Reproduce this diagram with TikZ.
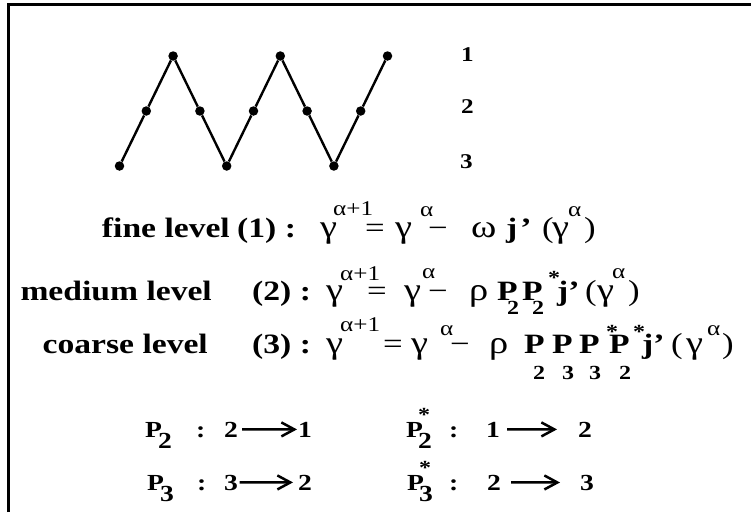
\documentclass[tikz,border=0pt]{standalone}
\usepackage{fontspec}
\setmainfont{Liberation Serif}[FakeStretch=1.2]
\usetikzlibrary{arrows.meta}

\begin{document}
\begin{tikzpicture}[x=1pt, y=1pt, >={Straight Barb[length=13pt,width=14pt]},
  dot/.style={circle, fill, inner sep=0pt, minimum size=9.5pt},
  pc/.style={inner sep=0pt, anchor=base west},
  tag/.style={pc, font=\bfseries\fontsize{21}{24}\selectfont},
  lvl/.style={pc, anchor=base east, font=\bfseries\fontsize{28}{32}\selectfont},
  bb/.style={pc, font=\bfseries\fontsize{28}{32}\selectfont},
  rr/.style={pc, font=\fontsize{29}{32}\selectfont},
  grk/.style={pc, font=\fontsize{32}{34}\selectfont},
  sup/.style={pc, font=\fontsize{21}{23}\selectfont},
  bsub/.style={pc, font=\bfseries\fontsize{20}{22}\selectfont},
  rowb/.style={pc, font=\bfseries\fontsize{23}{26}\selectfont},
  arr/.style={->, line width=2.5pt}]

  \useasboundingbox (0,0) rectangle (751,-512);

  % Cadre
  \draw[line width=3pt] (8.5,-512) -- (8.5,-4.5) -- (751,-4.5);

  % Zigzag des niveaux
  \foreach \lv [count=\i from 0] in {3,2,1,2,3,2,1,2,3,2,1}
    \node[dot] (d\i) at ({119.5+26.8*\i}, {-1-55*\lv}) {};
  \draw[line width=2.4pt] (d0) -- (d1) -- (d2) -- (d3) -- (d4) -- (d5)
    -- (d6) -- (d7) -- (d8) -- (d9) -- (d10);

  % Numeros des niveaux
  \node[tag] (tg1) at (461,-61) {1};
  \node[tag] (tg2) at (461,-113) {2};
  \node[tag] (tg3) at (460,-168) {3};

  % Niveau fin
  \node[lvl] (lvA) at (230,-237) {fine level};
  \node[bb] (nA) at (237,-237) {(1) :};
  \node[grk] (gA1) at (320,-237) {γ};
  \node[sup] (eA1) at (333,-215) {α+1};
  \node[rr] (qA) at (365,-237) {=};
  \node[grk] (gA2) at (395,-237) {γ};
  \node[sup] (eA2) at (420,-216) {α};
  \node[rr] (mA) at (428,-237) {−};
  \node[grk] (wA) at (471,-237) {ω};
  \node[bb] (jA) at (506,-237) {j\kern3pt’};
  \node[rr] (oA) at (542,-237) {(};
  \node[grk] (gA3) at (552,-237) {γ};
  \node[sup] (eA3) at (568,-216) {α};
  \node[rr] (pA) at (584,-237) {)};

  % Niveau moyen
  \node[lvl] (lvB) at (212,-300) {medium level};
  \node[bb] (nB) at (252,-300) {(2) :};
  \node[grk] (gB1) at (326,-300) {γ};
  \node[sup] (eB1) at (340,-280) {α+1};
  \node[rr] (qB) at (367,-300) {=};
  \node[grk] (gB2) at (404,-300) {γ};
  \node[sup] (eB2) at (422,-278) {α};
  \node[rr] (mB) at (428,-300) {−};
  \node[grk] (rB) at (469,-300) {ρ};
  \node[bb] (PB1) at (497,-300) {P};
  \node[bsub] (sB1) at (507,-314) {2};
  \node[bb] (PB2) at (522,-300) {P};
  \node[bsub] (sB2) at (532,-314) {2};
  \node[bsub] (aB2) at (548,-284) {*};
  \node[bb] (jB) at (557,-300) {j’};
  \node[rr] (oB) at (585,-300) {(};
  \node[grk] (gB3) at (597,-300) {γ};
  \node[sup] (eB3) at (612,-278) {α};
  \node[rr] (pB) at (628,-300) {)};

  % Niveau grossier
  \node[lvl] (lvC) at (208,-353) {coarse level};
  \node[bb] (nC) at (252,-353) {(3) :};
  \node[grk] (gC1) at (326,-353) {γ};
  \node[sup] (eC1) at (340,-331) {α+1};
  \node[rr] (qC) at (383,-353) {=};
  \node[grk] (gC2) at (411,-353) {γ};
  \node[sup] (eC2) at (440,-335) {α};
  \node[rr] (mC) at (450,-353) {−};
  \node[grk] (rC) at (489,-353) {ρ};
  \node[bb] (PC1) at (524,-353) {P};
  \node[bsub] (sC1) at (533,-379) {2};
  \node[bb] (PC2) at (552,-353) {P};
  \node[bsub] (sC2) at (562,-379) {3};
  \node[bb] (PC3) at (579,-353) {P};
  \node[bsub] (sC3) at (589,-379) {3};
  \node[bsub] (aC3) at (606,-338) {*};
  \node[bb] (PC4) at (609,-353) {P};
  \node[bsub] (sC4) at (619,-379) {2};
  \node[bsub] (aC4) at (633,-338) {*};
  \node[bb] (jC) at (642,-353) {j’};
  \node[rr] (oC) at (671,-353) {(};
  \node[grk] (gC3) at (686,-353) {γ};
  \node[sup] (eC3) at (707,-335) {α};
  \node[rr] (pC) at (722,-353) {)};

  % Prolongements P_2, P_2^*
  \node[rowb] (PD1) at (145,-437) {P};
  \node[rowb] (sD1) at (158,-448) {2};
  \node[rowb] (cD1) at (196,-437) {:};
  \node[rowb] (fD1) at (224,-437) {2};
  \node[rowb] (tD1) at (298,-437) {1};
  \node[rowb] (PD2) at (406,-437) {P};
  \node[bsub] (aD2) at (418,-421) {*};
  \node[rowb] (sD2) at (418,-448) {2};
  \node[rowb] (cD2) at (449,-437) {:};
  \node[rowb] (fD2) at (486,-437) {1};
  \node[rowb] (tD2) at (578,-437) {2};
  \draw[arr, shorten <=4pt, shorten >=1pt] (fD1) -- (tD1);
  \draw[arr, shorten <=7pt, shorten >=21pt] (fD2) -- (tD2);

  % Prolongements P_3, P_3^*
  \node[rowb] (PE1) at (147,-490) {P};
  \node[rowb] (sE1) at (160,-501) {3};
  \node[rowb] (cE1) at (197,-490) {:};
  \node[rowb] (fE1) at (224,-490) {3};
  \node[rowb] (tE1) at (298,-490) {2};
  \node[rowb] (PE2) at (407,-490) {P};
  \node[bsub] (aE2) at (419,-474) {*};
  \node[rowb] (sE2) at (419,-501) {3};
  \node[rowb] (cE2) at (449,-490) {:};
  \node[rowb] (fE2) at (487,-490) {2};
  \node[rowb] (tE2) at (580,-490) {3};
  \draw[arr, shorten <=1.5pt, shorten >=5pt] (fE1) -- (tE1);
  \draw[arr, shorten <=10pt, shorten >=20pt] (fE2) -- (tE2);
\end{tikzpicture}
\end{document}
